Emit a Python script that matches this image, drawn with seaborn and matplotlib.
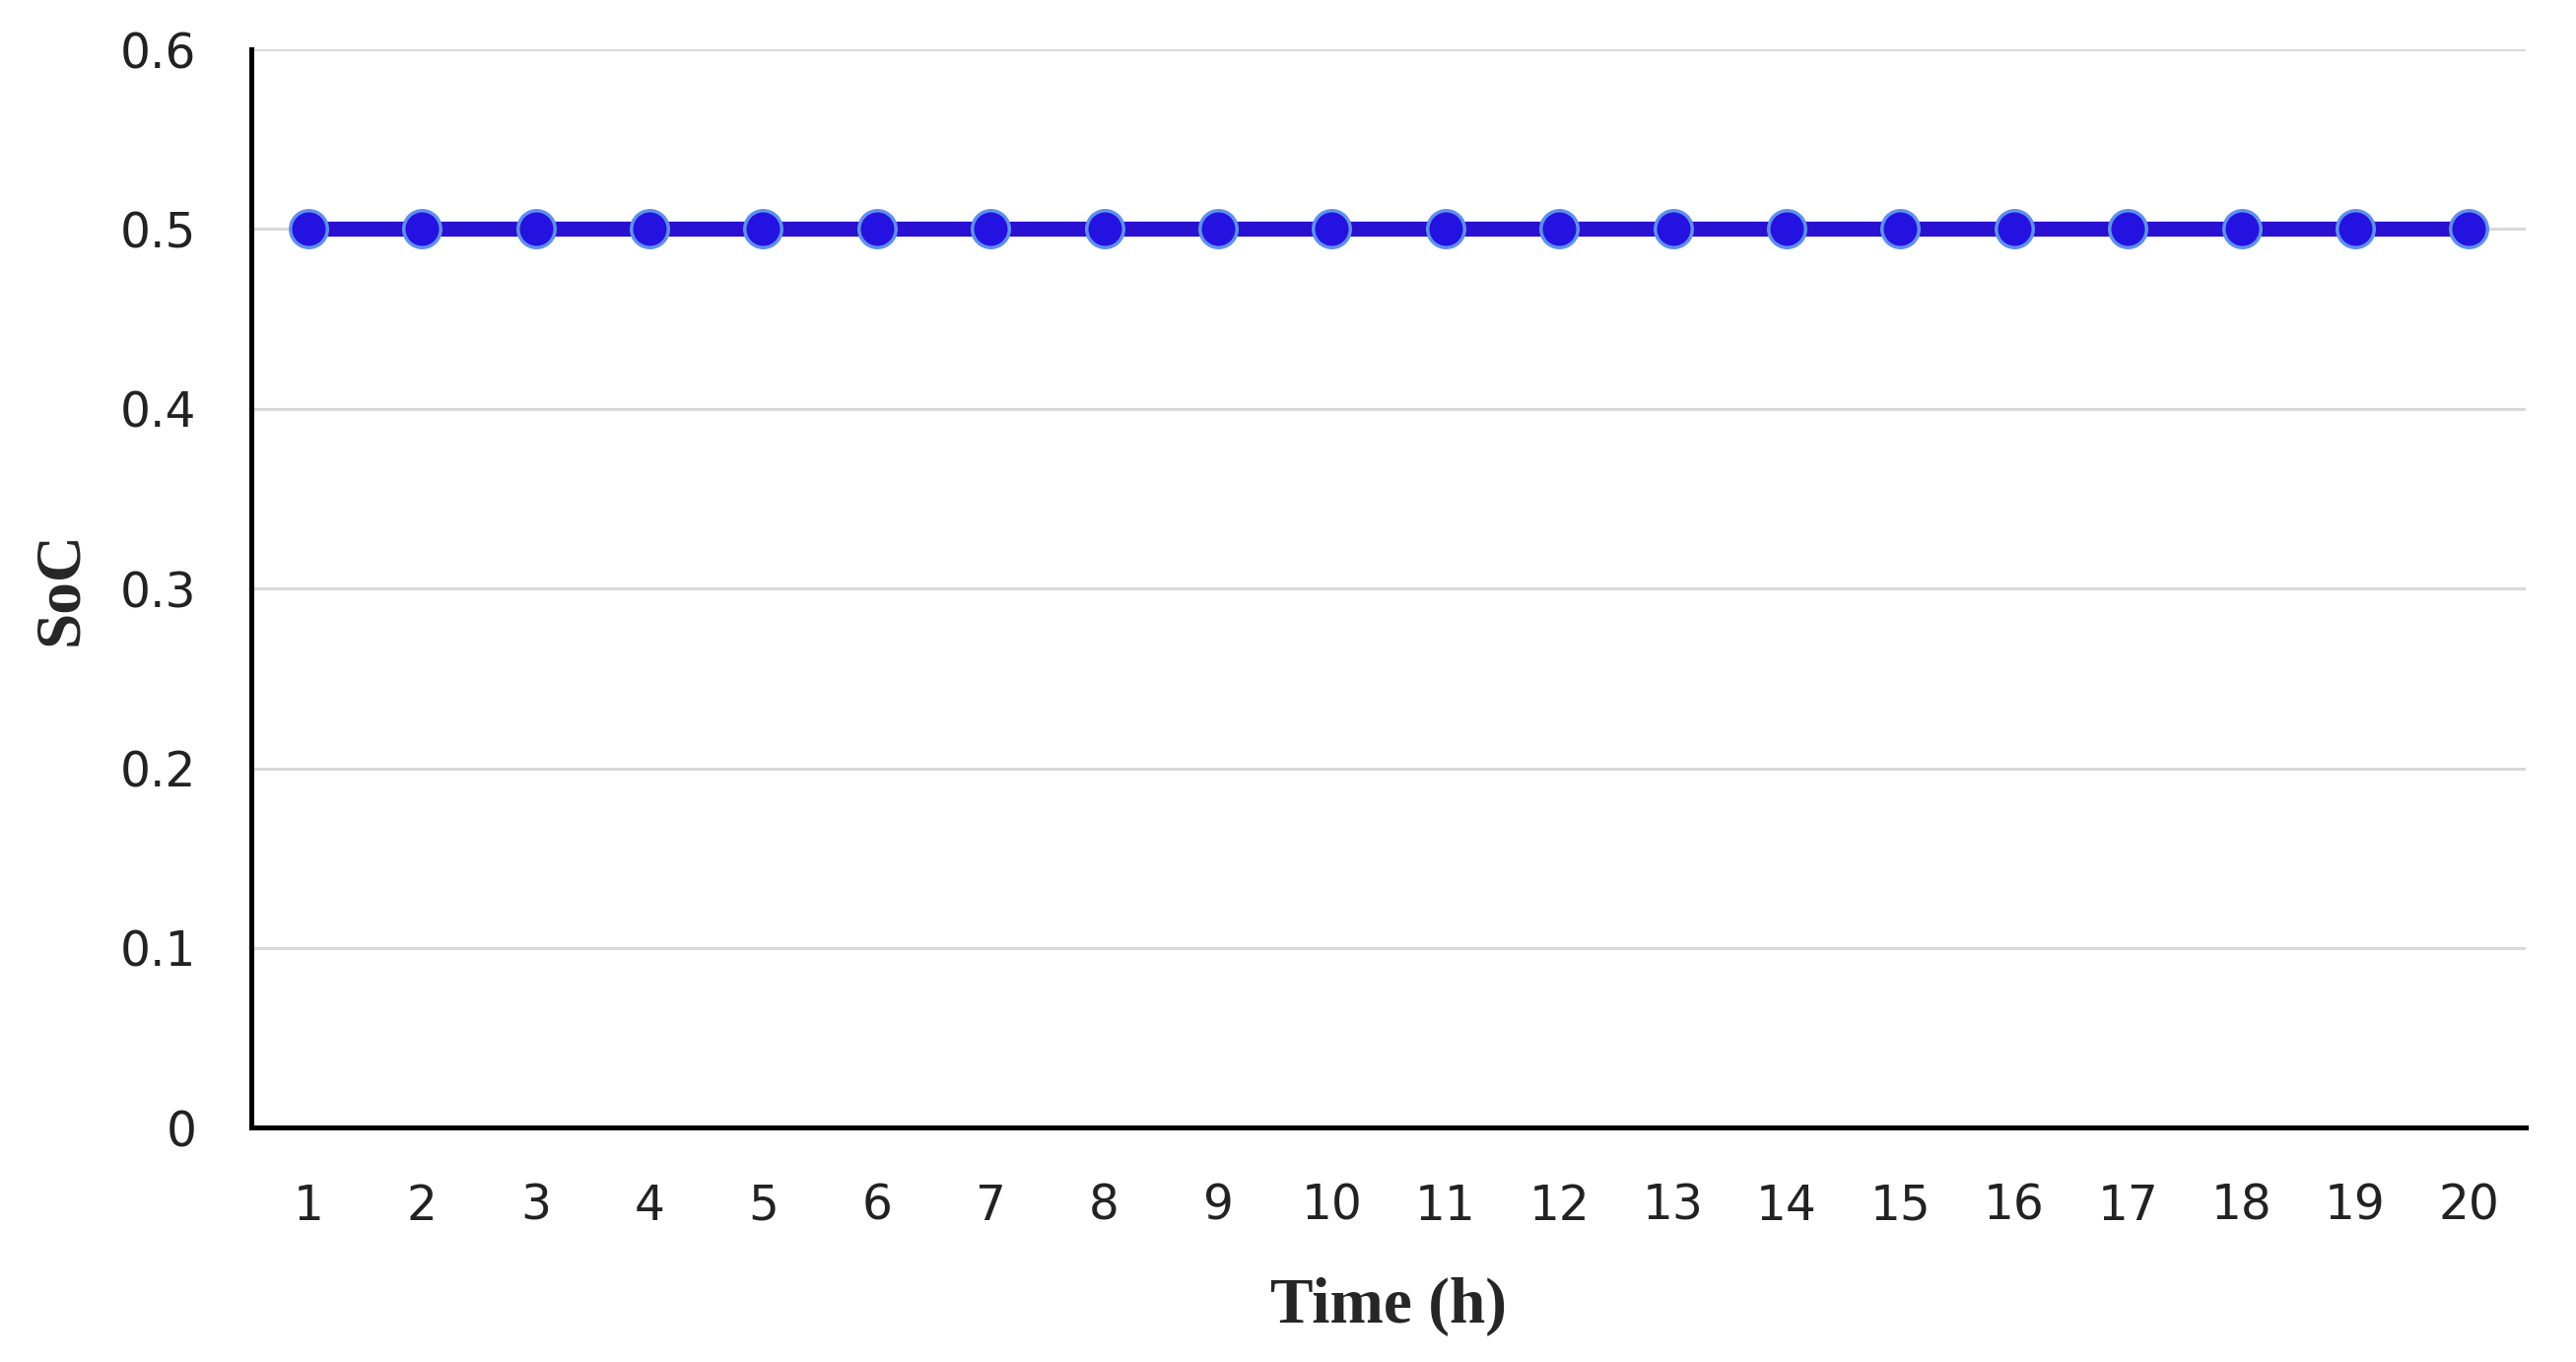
import pandas as pd
import matplotlib.pyplot as plt
import seaborn as sns

# SoC per hour
hours = list(range(1, 21))
soc = [0.5] * 20

df = pd.DataFrame({'Time (h)': hours, 'SoC': soc})

sns.set_theme(style='white')
plt.rcParams['font.family'] = ['DejaVu Sans']

fig = plt.figure(figsize=(26.14, 13.82), dpi=100)
ax = fig.add_axes([0.0976, 0.172, 0.8829, 0.7918])

ax.yaxis.grid(True, color='#d9d9d9', linewidth=2.2)
ax.set_axisbelow(True)

sns.lineplot(data=df, x='Time (h)', y='SoC', ax=ax, color='#2a10d0', linewidth=11,
             marker='o', markersize=27, markerfacecolor='#2412e0',
             markeredgecolor='#5f90f0', markeredgewidth=2.5)

ax.set_xlim(0.5, 20.5)
ax.set_ylim(0, 0.6)
ax.set_xticks(hours)
ax.set_xticklabels([str(h) for h in hours])
ax.set_yticks([0, 0.1, 0.2, 0.3, 0.4, 0.5, 0.6])
ax.set_yticklabels(['0', '0.1', '0.2', '0.3', '0.4', '0.5', '0.6'])
ax.tick_params(axis='both', labelsize=35, length=0, colors='#222222')
ax.tick_params(axis='x', pad=40)
ax.tick_params(axis='y', pad=40)

for s in ['top', 'right']:
    ax.spines[s].set_visible(False)
for s in ['left', 'bottom']:
    ax.spines[s].set_color('black')
    ax.spines[s].set_linewidth(3.6)

ax.set_xlabel('Time (h)', fontsize=47, fontweight='bold', family='Liberation Serif', labelpad=35)
ax.set_ylabel('SoC', fontsize=47, fontweight='bold', family='Liberation Serif', labelpad=22)

fig.savefig('out.png', dpi=100)
